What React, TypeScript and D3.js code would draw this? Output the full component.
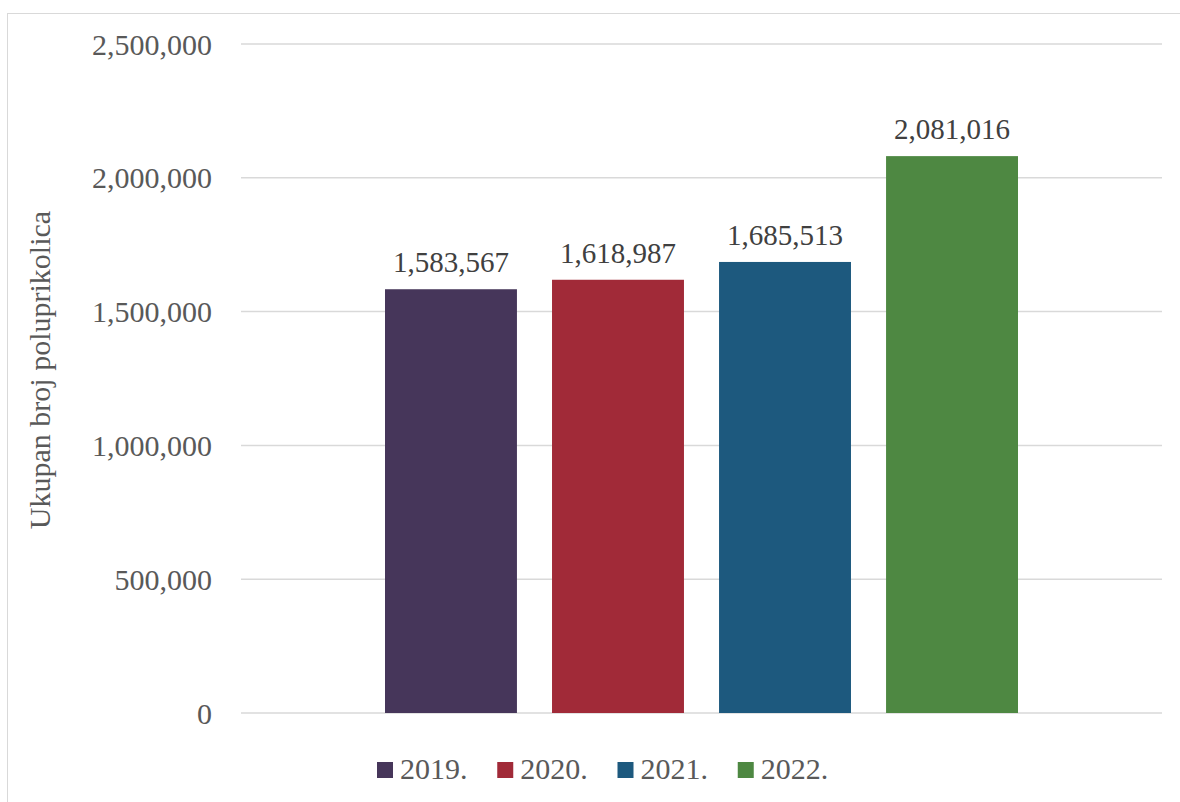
import * as d3 from 'd3';

const years = ['2019.', '2020.', '2021.', '2022.'];
const values = [1583567, 1618987, 1685513, 2081016];
const colors = ['#46365a', '#a12a38', '#1d597e', '#4e8842'];
const yTicks = [0, 500000, 1000000, 1500000, 2000000, 2500000];
const yTitle = 'Ukupan broj poluprikolica';

const width = 1180;
const height = 802;
const plot = { left: 241, right: 1162, top: 44, bottom: 713 };
const font = '"Liberation Serif", "Times New Roman", serif';
const fmt = d3.format(',');

export default function App() {
  const y = d3.scaleLinear().domain([0, 2500000]).range([plot.bottom, plot.top]);

  // one category, four series side by side
  const group = d3
    .scaleBand<string>()
    .domain(['all'])
    .range([plot.left, plot.right])
    .paddingInner(0.3127)
    .paddingOuter(0.3127 / 2);
  const g0 = group('all')!;
  const x = d3
    .scaleBand<string>()
    .domain(years)
    .range([g0, g0 + group.bandwidth()])
    .paddingInner(0.21);

  const legendX = d3.scaleBand<string>().domain(years).range([377, 858]);

  return (
    <svg
      width={width}
      height={height}
      style={{ position: 'absolute', left: 0, top: 0, background: '#fff', fontFamily: font }}
    >
      <rect x={7.5} y={13.5} width={width} height={height} fill="#fff" stroke="#d9d9d9" />

      {yTicks.map((t) => (
        <g key={t}>
          <line x1={plot.left} x2={plot.right} y1={y(t)} y2={y(t)} stroke="#d9d9d9" strokeWidth={1.5} />
          <text x={212} y={y(t)} dy="0.35em" textAnchor="end" fontSize={30} fill="#595959">
            {fmt(t)}
          </text>
        </g>
      ))}

      <text
        transform={`translate(50,370) rotate(-90)`}
        textAnchor="middle"
        fontSize={30}
        fill="#595959"
      >
        {yTitle}
      </text>

      {years.map((yr, i) => (
        <g key={yr}>
          <rect
            x={x(yr)}
            y={y(values[i])}
            width={x.bandwidth()}
            height={y(0) - y(values[i])}
            fill={colors[i]}
          />
          <text
            x={x(yr)! + x.bandwidth() / 2}
            y={y(values[i]) - 17}
            textAnchor="middle"
            fontSize={29}
            fill="#404040"
          >
            {fmt(values[i])}
          </text>
        </g>
      ))}

      {years.map((yr, i) => (
        <g key={yr} transform={`translate(${legendX(yr)},0)`}>
          <rect x={0} y={762} width={16} height={16} fill={colors[i]} />
          <text x={23} y={779} fontSize={30} fill="#595959">
            {yr}
          </text>
        </g>
      ))}
    </svg>
  );
}
